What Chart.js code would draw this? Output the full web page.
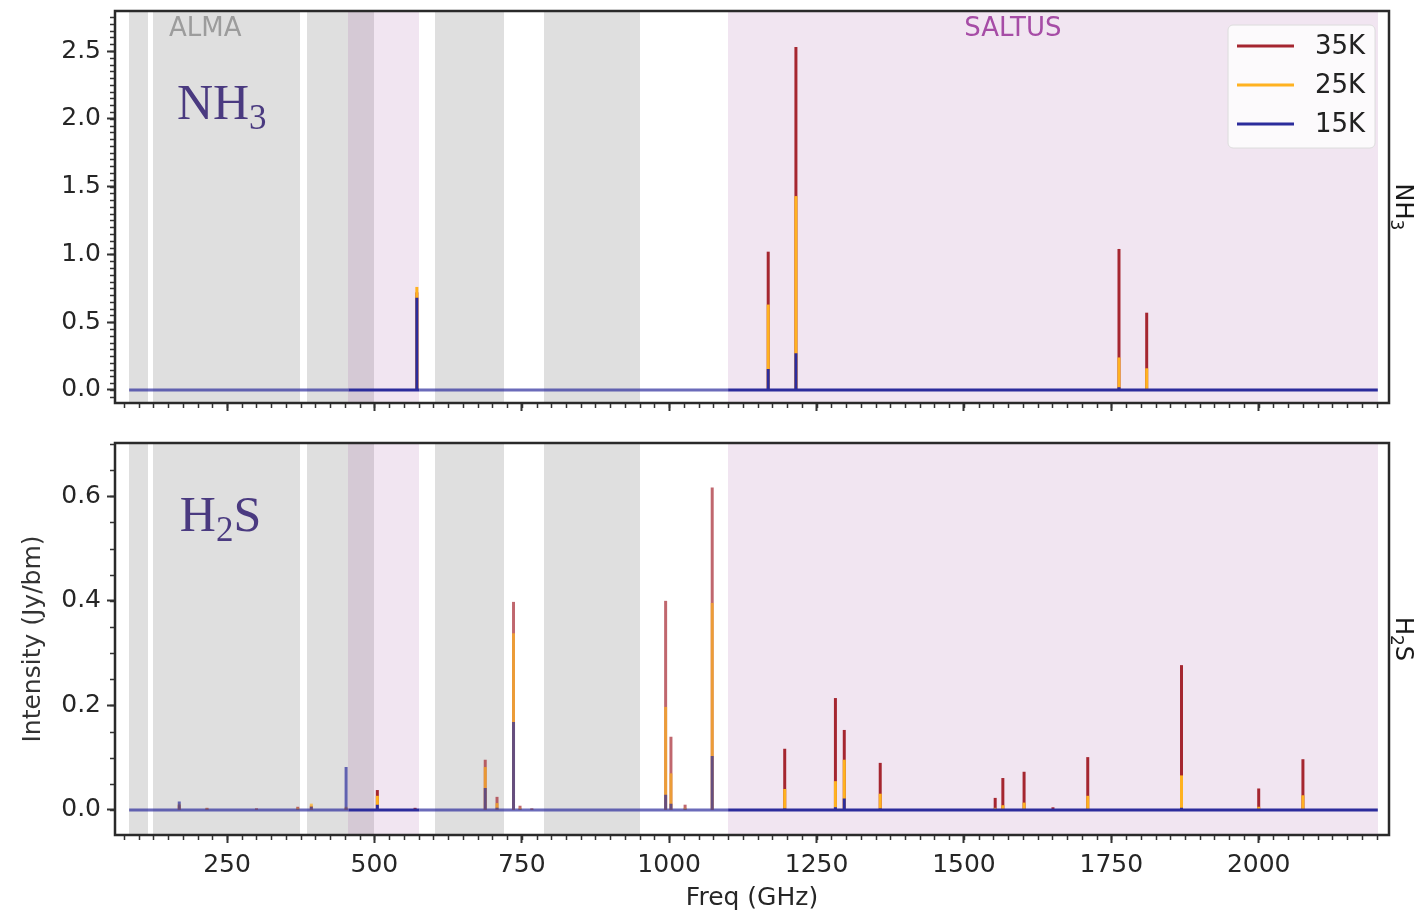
<!DOCTYPE html>
<html>
<head>
<meta charset="utf-8">
<title>NH3 / H2S line intensities</title>
<script src="https://cdn.jsdelivr.net/npm/chart.js@4.4.0/dist/chart.umd.min.js"></script>
<style>
  html, body { margin: 0; padding: 0; background: #fff; }
  #wrap { position: relative; width: 1416px; height: 915px; overflow: hidden; }
  canvas { position: absolute; left: 0; }
  #topChart { top: 0; }
  #botChart { top: 425px; }
</style>
</head>
<body>
<div id="wrap">
  <canvas id="topChart" width="1416" height="425"></canvas>
  <canvas id="botChart" width="1416" height="490"></canvas>
</div>
<script>
// tick labels
const xTicks = [250, 500, 750, 1000, 1250, 1500, 1750, 2000];
const nh3Ticks = [0, 0.5, 1.0, 1.5, 2.0, 2.5];
const h2sTicks = [0, 0.2, 0.4, 0.6];

// observing windows (GHz)
const almaBands = [[84, 116], [125, 373], [385, 500], [602, 720], [787, 950]];
const saltusBands = [[456, 576], [1100, 2202]];
const specRange = [84, 2202];

const temps = ['35K', '25K', '15K'];

// NH3 lines (GHz) and peak intensities (Jy/bm)
const nh3Freq = [572, 1168, 1215, 1763, 1810];
const nh3_35K = [0.72, 1.02, 2.53, 1.04, 0.57];
const nh3_25K = [0.76, 0.63, 1.43, 0.24, 0.16];
const nh3_15K = [0.68, 0.155, 0.27, 0.02, 0.01];

// H2S lines
const h2sFreq = [169, 216, 300, 370, 393, 452, 505, 569, 688, 708, 736, 747, 767, 994, 1003, 1027, 1073,
                 1196, 1282, 1297, 1358, 1553, 1566, 1602, 1651, 1710, 1869, 2000, 2075];
const h2s_35K = [0.009, 0.004, 0.003, 0.006, 0.008, 0.004, 0.038, 0.004, 0.096, 0.025, 0.398, 0.008, 0.003, 0.400, 0.140, 0.010, 0.617,
                 0.117, 0.214, 0.153, 0.090, 0.023, 0.061, 0.073, 0.005, 0.101, 0.277, 0.041, 0.097];
const h2s_25K = [0.012, 0.003, 0.002, 0.004, 0.012, 0.006, 0.027, 0.002, 0.082, 0.013, 0.338, 0.004, 0.002, 0.197, 0.070, 0.004, 0.396,
                 0.040, 0.055, 0.096, 0.031, 0.004, 0.009, 0.014, 0.001, 0.027, 0.066, 0.006, 0.028];
const h2s_15K = [0.016, 0.001, 0.001, 0.002, 0.006, 0.082, 0.010, 0.001, 0.042, 0.004, 0.168, 0.001, 0.001, 0.029, 0.012, 0.001, 0.103,
                 0.003, 0.005, 0.022, 0.003, 0.000, 0.001, 0.001, 0.000, 0.002, 0.004, 0.000, 0.002];

const colors = { '35K': [165, 38, 48], '25K': [255, 178, 32], '15K': [44, 44, 156] };
const FONT = "'DejaVu Sans', sans-serif";
const SERIF = "'Liberation Serif', 'DejaVu Serif', serif";

Chart.defaults.font.family = FONT;
Chart.defaults.font.size = 25;
Chart.defaults.color = '#262626';

function rgba(c, a) { return `rgba(${c[0]},${c[1]},${c[2]},${a})`; }
const inSaltus = f => saltusBands.some(([a, b]) => f >= a && f <= b);

// each line becomes a vertical stick; only the 15K series carries the zero baseline
function spikes(freqs, vals, baseline) {
  const ev = freqs.map((f, i) => ({ f, v: vals[i] }));
  if (baseline) specRange.concat(saltusBands.flat()).forEach(f => ev.push({ f, v: null }));
  ev.sort((a, b) => a.f - b.f);
  const pts = [];
  ev.forEach(e => {
    if (e.v === null) { pts.push({ x: e.f, y: 0 }); return; }
    pts.push({ x: e.f, y: 0 }, { x: e.f, y: e.v }, { x: e.f, y: baseline ? 0 : null });
  });
  return pts;
}

function dataset(label, pts, order) {
  const c = colors[label];
  return {
    label, data: pts, order,
    borderColor: rgba(c, 1), borderWidth: 3,
    pointRadius: 0, tension: 0, spanGaps: false, fill: false,
    borderJoinStyle: 'bevel', borderCapStyle: 'butt',
    segment: {
      borderColor: s => inSaltus((s.p0.parsed.x + s.p1.parsed.x) / 2) ? rgba(c, 1) : rgba(c, 0.7)
    }
  };
}

function drawFormula(ctx, parts, x, y, size, family, measureOnly) {
  let w = 0;
  parts.forEach(([t, sub]) => {
    ctx.font = `${sub ? Math.round(size * 0.7) : size}px ${family}`;
    if (!measureOnly) ctx.fillText(t, x + w, sub ? y + size * 0.2 : y);
    w += ctx.measureText(t).width;
  });
  return w;
}

function panelPlugin(cfg) {
  return {
    id: 'panel_' + cfg.id,
    beforeDatasetsDraw(chart) {
      const { ctx, chartArea: a, scales: { x } } = chart;
      ctx.save();
      ctx.beginPath();
      ctx.rect(a.left, a.top, a.width, a.height);
      ctx.clip();
      ctx.fillStyle = 'rgba(128,128,128,0.25)';
      almaBands.forEach(([lo, hi]) => {
        const x0 = Math.round(x.getPixelForValue(lo)), x1 = Math.round(x.getPixelForValue(hi));
        ctx.fillRect(x0, a.top, x1 - x0, a.height);
      });
      ctx.fillStyle = 'rgba(140,40,140,0.12)';
      saltusBands.forEach(([lo, hi]) => {
        const x0 = Math.round(x.getPixelForValue(lo)), x1 = Math.round(x.getPixelForValue(hi));
        ctx.fillRect(x0, a.top, x1 - x0, a.height);
      });
      ctx.restore();
    },
    afterDatasetsDraw(chart) {
      const { ctx, chartArea: a, scales: { x } } = chart;
      ctx.save();
      // molecule name
      ctx.fillStyle = '#4a3a80';
      ctx.textBaseline = 'alphabetic';
      ctx.textAlign = 'left';
      drawFormula(ctx, cfg.formula, x.getPixelForValue(cfg.labelAt[0]), a.top + cfg.labelAt[1], 50, SERIF);

      if (cfg.bandLabels) {
        ctx.font = `26px ${FONT}`;
        ctx.textAlign = 'center';
        ctx.textBaseline = 'middle';
        ctx.fillStyle = '#9c9c9c';
        ctx.fillText('ALMA', x.getPixelForValue(213), a.top + 18);
        ctx.fillStyle = '#a64ca6';
        ctx.fillText('SALTUS', x.getPixelForValue(1583), a.top + 18);
      }

      if (cfg.legend) {
        const w = 147, h = 123, r = 5;
        const lx = a.right - 14 - w, ly = a.top + 14;
        ctx.beginPath();
        ctx.moveTo(lx + r, ly);
        ctx.arcTo(lx + w, ly, lx + w, ly + h, r);
        ctx.arcTo(lx + w, ly + h, lx, ly + h, r);
        ctx.arcTo(lx, ly + h, lx, ly, r);
        ctx.arcTo(lx, ly, lx + w, ly, r);
        ctx.closePath();
        ctx.fillStyle = 'rgba(255,255,255,0.8)';
        ctx.fill();
        ctx.strokeStyle = '#dcdcdc';
        ctx.lineWidth = 1;
        ctx.stroke();
        chart.data.datasets.forEach((d, i) => {
          const yy = ly + 21 + i * 39;
          ctx.strokeStyle = d.borderColor;
          ctx.lineWidth = 3;
          ctx.beginPath();
          ctx.moveTo(lx + 9, yy);
          ctx.lineTo(lx + 66, yy);
          ctx.stroke();
          ctx.fillStyle = '#222';
          ctx.font = `26px ${FONT}`;
          ctx.textAlign = 'left';
          ctx.textBaseline = 'middle';
          ctx.fillText(d.label, lx + 87, yy + 1);
        });
      }
      ctx.restore();
    },
    afterDraw(chart) {
      const { ctx, chartArea: a, scales: { x, y } } = chart;
      ctx.save();
      // minor ticks
      ctx.strokeStyle = '#333';
      ctx.lineWidth = 1.5;
      ctx.beginPath();
      for (let i = 3; i <= 88; i++) {
        const px = Math.round(x.getPixelForValue(i * 25)) + 0.5;
        if (px < a.left || px > a.right) continue;
        ctx.moveTo(px, a.bottom);
        ctx.lineTo(px, a.bottom + 5);
      }
      for (let i = cfg.yMinor[0]; i <= cfg.yMinor[1]; i++) {
        const py = Math.round(y.getPixelForValue(i * 0.05)) + 0.5;
        if (py < a.top || py > a.bottom) continue;
        ctx.moveTo(a.left, py);
        ctx.lineTo(a.left - 5, py);
      }
      ctx.stroke();
      // frame
      ctx.strokeStyle = '#2a2a2a';
      ctx.lineWidth = 2.5;
      ctx.strokeRect(a.left, a.top, a.width, a.height);
      // right-hand molecule tag
      ctx.fillStyle = '#1a1a1a';
      ctx.textBaseline = 'alphabetic';
      ctx.textAlign = 'left';
      const tw = drawFormula(ctx, cfg.formula, 0, 0, 24, FONT, true);
      ctx.translate(a.right + 7, (a.top + a.bottom) / 2);
      ctx.rotate(Math.PI / 2);
      drawFormula(ctx, cfg.formula, -tw / 2, 0, 24, FONT);
      ctx.restore();
    }
  };
}

function makeChart(id, cfg) {
  const series = [cfg.s35, cfg.s25, cfg.s15];
  return new Chart(document.getElementById(id), {
    type: 'line',
    data: {
      datasets: temps.map((t, i) => dataset(t, spikes(cfg.freq, series[i], t === '15K'), 2 - i))
    },
    options: {
      responsive: false,
      animation: false,
      events: [],
      layout: { padding: { left: 0, right: 27, top: cfg.padTop, bottom: 0 } },
      plugins: { legend: { display: false }, tooltip: { enabled: false } },
      scales: {
        x: {
          type: 'linear', min: 60, max: 2221,
          afterBuildTicks: s => { s.ticks = xTicks.map(v => ({ value: v })); },
          afterFit: s => { s.height = cfg.xHeight; s.paddingLeft = 0; s.paddingRight = 0; },
          grid: { drawOnChartArea: false, tickLength: 8, tickWidth: 2, tickColor: '#333' },
          border: { display: false },
          ticks: { display: cfg.showX, padding: 7, maxRotation: 0, autoSkip: false, callback: v => String(v) },
          title: {
            display: cfg.showX, text: 'Freq (GHz)', color: '#262626',
            font: { size: 25 }, padding: { top: 0, bottom: 2 }
          }
        },
        y: {
          type: 'linear', min: cfg.yMin, max: cfg.yMax,
          afterBuildTicks: s => { s.ticks = cfg.yTicks.map(v => ({ value: v })); },
          afterFit: s => { s.width = 115; s.paddingTop = 0; s.paddingBottom = 0; },
          grid: { drawOnChartArea: false, tickLength: 8, tickWidth: 2, tickColor: '#333' },
          border: { display: false },
          ticks: { padding: 6, callback: v => v.toFixed(1) },
          title: {
            display: cfg.yTitle, text: 'Intensity (Jy/bm)', color: '#333',
            font: { size: 25 }, padding: { top: 18, bottom: 0 }
          }
        }
      }
    },
    plugins: [panelPlugin(cfg)]
  });
}

makeChart('topChart', {
  id: 'nh3', freq: nh3Freq, s35: nh3_35K, s25: nh3_25K, s15: nh3_15K,
  yMin: -0.096, yMax: 2.795, yTicks: nh3Ticks, yMinor: [-1, 55],
  padTop: 11, xHeight: 22, showX: false, yTitle: false,
  formula: [['NH', false], ['3', true]], labelAt: [165, 108],
  bandLabels: true, legend: true
});

makeChart('botChart', {
  id: 'h2s', freq: h2sFreq, s35: h2s_35K, s25: h2s_25K, s15: h2s_15K,
  yMin: -0.048, yMax: 0.702, yTicks: h2sTicks, yMinor: [-1, 14],
  padTop: 18, xHeight: 80, showX: true, yTitle: true,
  formula: [['H', false], ['2', true], ['S', false]], labelAt: [170, 88],
  bandLabels: false, legend: false
});
</script>
</body>
</html>
